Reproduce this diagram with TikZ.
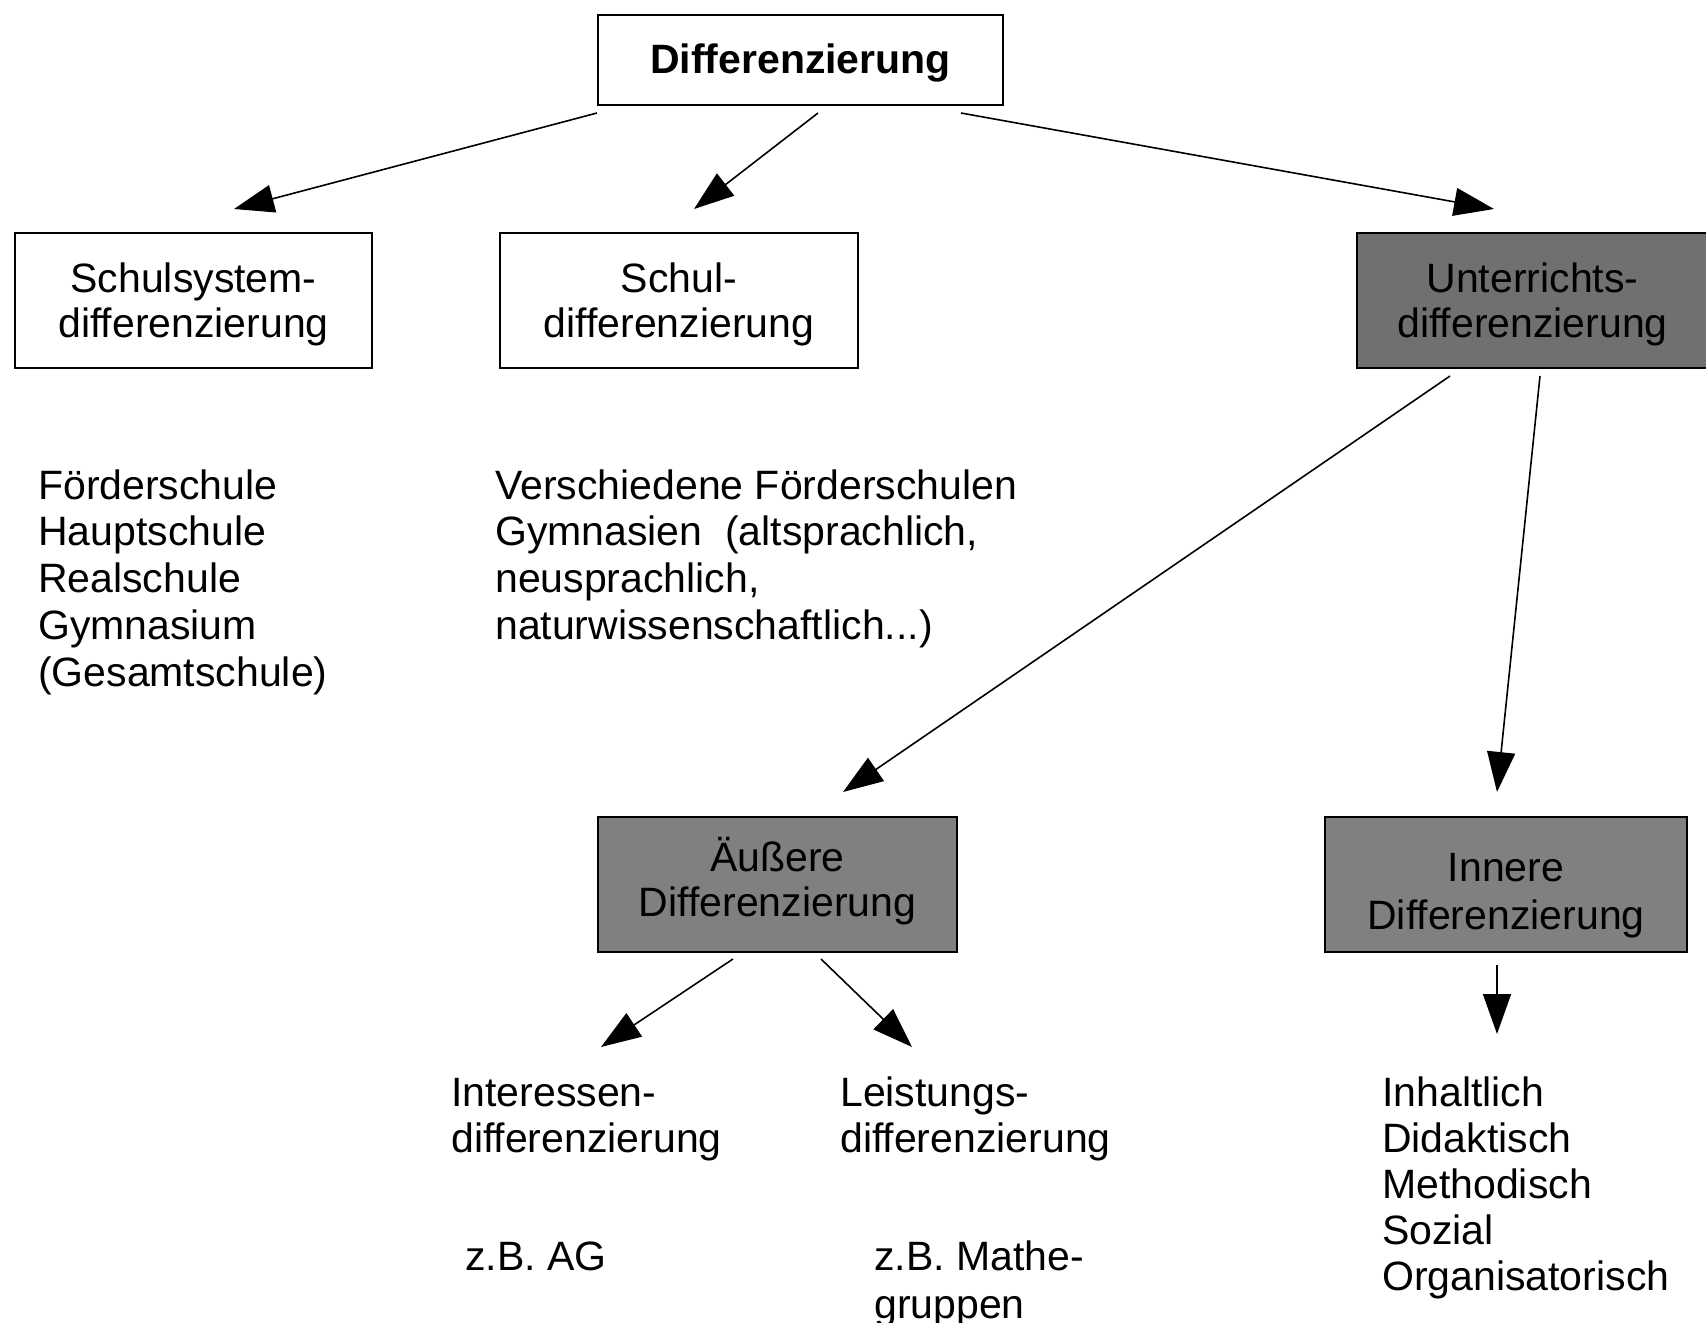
\documentclass[tikz,border=0pt]{standalone}
\usepackage{fontspec}
\setmainfont{Liberation Sans}
\usetikzlibrary{arrows.meta,calc}
\definecolor{darkbox}{RGB}{112,112,112}
\definecolor{midbox}{RGB}{128,128,128}
\newcommand{\txtdown}[2]{\raisebox{-#1}[\height][\depth]{\begin{tabular}{@{}c@{}}#2\end{tabular}}}
\tikzset{
  box/.style={draw=black, line width=2pt, align=center, inner sep=0pt,
    minimum width=357pt, minimum height=135pt,
    font=\fontsize{41}{45}\selectfont},
  listtext/.style={anchor=base west, inner sep=0pt, font=\fontsize{41}{46.8}\selectfont},
  conn/.style={line width=1.6pt, -{Triangle[length=40pt,width=28pt]}}
}
\begin{document}
\begin{tikzpicture}[x=1pt,y=-1pt]
\useasboundingbox (0,0) rectangle (1706,1323);
\fill[white] (0,0) rectangle (1706,1323);

% boxes
\node[box, minimum width=405pt, minimum height=90pt, font=\fontsize{41}{45}\selectfont\bfseries] (top) at (800.5,60) {\txtdown{4pt}{Differenzierung}};
\node[box] (sys) at (193.5,300.5) {\txtdown{5pt}{Schulsystem-\\differenzierung}};
\node[box, minimum width=358pt] (schul) at (679,300.5) {\txtdown{5pt}{Schul-\\differenzierung}};
\node[box, fill=darkbox, minimum width=351pt] (unt) at (1532.5,300.5) {\txtdown{5pt}{Unterrichts-\\differenzierung}};
\node[box, fill=midbox, minimum width=359pt] (aus) at (777.5,884.5) {\txtdown{-1pt}{Äußere\\Differenzierung}};
\node[box, fill=midbox, minimum width=362pt] (inn) at (1506,884.5) {\txtdown{12pt}{Innere\\[3pt]Differenzierung}};

% texts
\node[listtext] (l1) at (38,499) {\vtop{\baselineskip=46.8pt\hbox{Förderschule}\hbox{Hauptschule}\hbox{Realschule}\hbox{Gymnasium}\hbox{(Gesamtschule)}}};
\node[listtext] (l2) at (495,499) {\vtop{\baselineskip=46.8pt\hbox{Verschiedene Förderschulen}\hbox{Gymnasien\ \ (altsprachlich,}\hbox{neusprachlich,}\hbox{naturwissenschaftlich...)}}};
\node[listtext] (int) at (451,1106) {\vtop{\baselineskip=46.8pt\hbox{Interessen-}\hbox{differenzierung}}};
\node[listtext] (lei) at (840,1106) {\vtop{\baselineskip=46.8pt\hbox{Leistungs-}\hbox{differenzierung}}};
\node[listtext] (ag) at (465,1270) {z.B. AG};
\node[listtext] (mat) at (874,1270) {\vtop{\baselineskip=48pt\hbox{z.B. Mathe-}\hbox{gruppen}}};
\node[listtext] (inh) at (1382,1106) {\vtop{\baselineskip=46.2pt\hbox{Inhaltlich}\hbox{Didaktisch}\hbox{Methodisch}\hbox{Sozial}\hbox{Organisatorisch}}};

% arrow end points
\coordinate (e1) at (234,209);
\coordinate (e2) at (694,209);
\coordinate (e3) at (1494,209);
\coordinate (e4) at (843,792);
\coordinate (e5) at (1497,792);
\coordinate (e6) at (601,1047);
\coordinate (e7) at (912,1047);
\coordinate (e8) at (1497,1034);

% connectors
\draw[conn] ($(top.south west)+(0,7)$) -- (e1);
\draw[conn] ($(top.south)+(17.5,7)$) -- (e2);
\draw[conn] ($(top.south east)+(-43,7)$) -- (e3);
\draw[conn] ($(unt.south)+(-82.5,7)$) -- (e4);
\draw[conn] ($(unt.south)+(7.5,7)$) -- (e5);
\draw[conn] ($(aus.south)+(-44.5,6)$) -- (e6);
\draw[conn] ($(aus.south)+(43.5,6)$) -- (e7);
\draw[conn] ($(inn.south)+(-9,12)$) -- (e8);
\end{tikzpicture}
\end{document}
